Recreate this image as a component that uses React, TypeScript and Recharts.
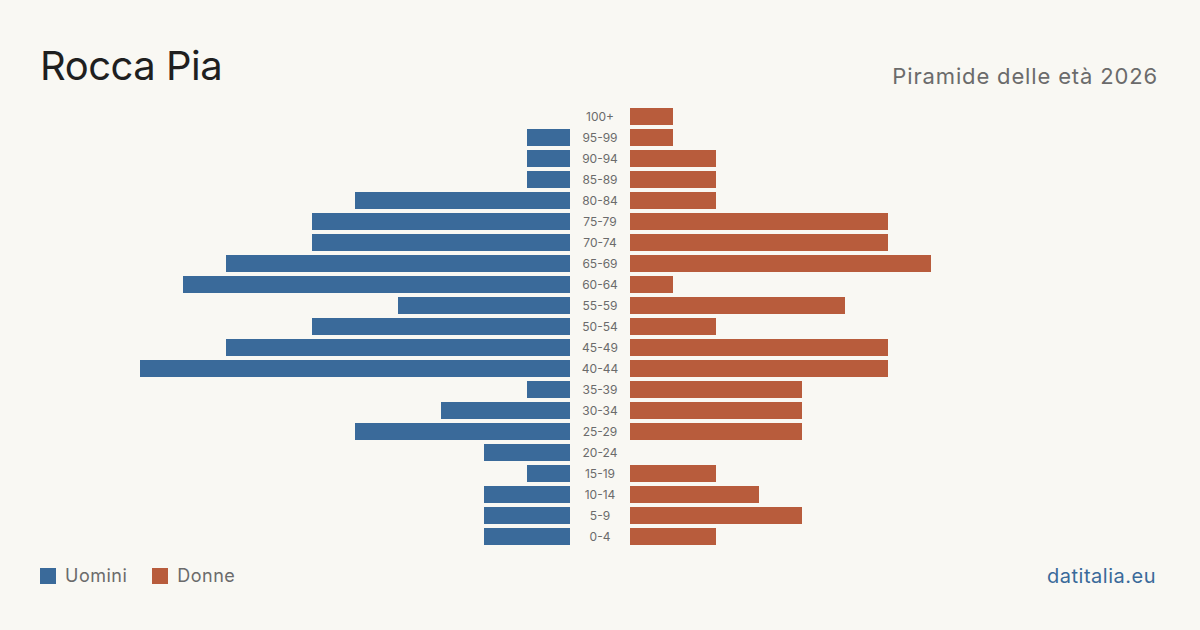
import React from "react";
import { BarChart, Bar, XAxis, YAxis } from "recharts";

// Age classes, top of the pyramid first
const ageGroups = [
  "100+", "95-99", "90-94", "85-89", "80-84", "75-79", "70-74", "65-69",
  "60-64", "55-59", "50-54", "45-49", "40-44", "35-39", "30-34", "25-29",
  "20-24", "15-19", "10-14", "5-9", "0-4",
];
const men = [0, 1, 1, 1, 5, 6, 6, 8, 9, 4, 6, 8, 10, 1, 3, 5, 2, 1, 2, 2, 2];
const women = [1, 1, 2, 2, 2, 6, 6, 7, 1, 5, 2, 6, 6, 4, 4, 4, 0, 2, 3, 4, 2];

const axisMax = 10;

const MEN_COLOR = "#3a6a9a";
const WOMEN_COLOR = "#b85c3c";
const BG = "#f9f8f3";
const FONT = "Inter, 'Liberation Sans', sans-serif";

const rows = ageGroups.map((age, i) => ({ age, men: men[i], women: women[i] }));

const CHART_H = 630;
const MARGIN_TOP = 106;
const MARGIN_BOTTOM = 83;

const AgeTick = (props: any) => {
  const { y, payload } = props;
  return (
    <text
      x={600}
      y={y}
      dy={4}
      textAnchor="middle"
      fontSize={12}
      fill="#6b6b6b"
      fontFamily={FONT}
    >
      {payload.value}
    </text>
  );
};

export default function App() {
  return (
    <div
      style={{
        position: "absolute",
        left: 0,
        top: 0,
        width: 1200,
        height: 630,
        background: BG,
        fontFamily: FONT,
        overflow: "hidden",
      }}
    >
      {/* Men: bars grow leftwards from the centre column */}
      <div style={{ position: "absolute", left: 0, top: 0 }}>
        <BarChart
          width={630}
          height={CHART_H}
          data={rows}
          layout="vertical"
          margin={{ top: MARGIN_TOP, bottom: MARGIN_BOTTOM, left: 140, right: 0 }}
          barSize={17}
        >
          <XAxis type="number" domain={[0, axisMax]} reversed hide />
          <YAxis
            type="category"
            dataKey="age"
            orientation="right"
            width={60}
            axisLine={false}
            tickLine={false}
            interval={0}
            tick={<AgeTick />}
          />
          <Bar dataKey="men" fill={MEN_COLOR} isAnimationActive={false} />
        </BarChart>
      </div>

      {/* Women: bars grow rightwards from the centre column */}
      <div style={{ position: "absolute", left: 630, top: 0 }}>
        <BarChart
          width={570}
          height={CHART_H}
          data={rows}
          layout="vertical"
          margin={{ top: MARGIN_TOP, bottom: MARGIN_BOTTOM, left: 0, right: 140 }}
          barSize={17}
        >
          <XAxis type="number" domain={[0, axisMax]} hide />
          <YAxis type="category" dataKey="age" hide />
          <Bar dataKey="women" fill={WOMEN_COLOR} isAnimationActive={false} />
        </BarChart>
      </div>

      <div
        style={{
          position: "absolute",
          left: 40,
          top: 42,
          fontSize: 40,
          color: "#1f1f1f",
          lineHeight: "48px",
          letterSpacing: -0.5,
        }}
      >
        Rocca Pia
      </div>
      <div
        style={{
          position: "absolute",
          right: 42,
          top: 62,
          fontSize: 22,
          color: "#6b6b6b",
          lineHeight: "28px",
          letterSpacing: 0.85,
        }}
      >
        Piramide delle età 2026
      </div>

      {/* Legend */}
      <div
        style={{
          position: "absolute",
          left: 40,
          top: 564,
          display: "flex",
          alignItems: "center",
          fontSize: 18,
          color: "#6b6b6b",
          lineHeight: "24px",
          letterSpacing: 0.5,
        }}
      >
        <span style={{ width: 16, height: 16, background: MEN_COLOR, display: "inline-block", marginRight: 9 }} />
        <span style={{ marginRight: 25 }}>Uomini</span>
        <span style={{ width: 16, height: 16, background: WOMEN_COLOR, display: "inline-block", marginRight: 9 }} />
        <span>Donne</span>
      </div>

      <div
        style={{
          position: "absolute",
          right: 44,
          top: 563,
          fontSize: 20,
          color: MEN_COLOR,
          lineHeight: "26px",
          letterSpacing: 0.5,
        }}
      >
        datitalia.eu
      </div>
    </div>
  );
}
